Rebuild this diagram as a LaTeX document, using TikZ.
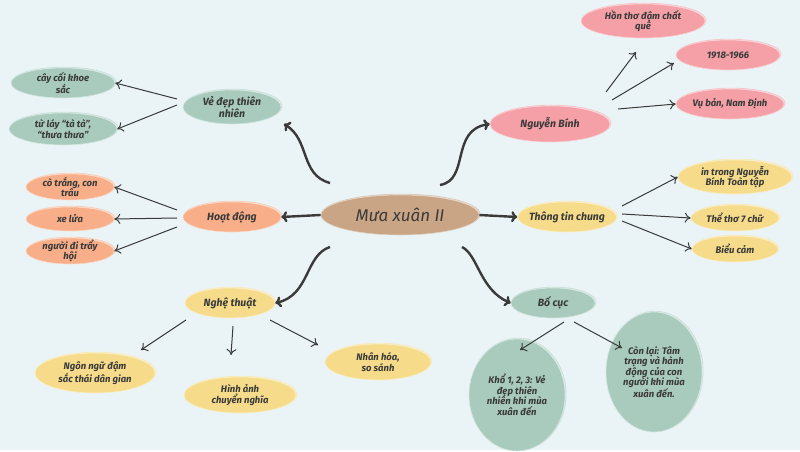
\documentclass[tikz,border=0pt]{standalone}
\usepackage{fontspec}
\setmainfont{Fira Sans}
\usetikzlibrary{shapes.geometric,arrows.meta}
\definecolor{bg}{HTML}{EAF4F6}
\definecolor{tan}{HTML}{C9A585}
\definecolor{grn}{HTML}{A9CBBE}
\definecolor{org}{HTML}{F8AE88}
\definecolor{pnk}{HTML}{F4A0A6}
\definecolor{yel}{HTML}{F6DC8A}
\definecolor{ink}{HTML}{3A3A3A}
\tikzset{
 bub/.style={ellipse,inner sep=-3pt,align=center,text=ink,font=\itshape\bfseries\fontsize{9.5}{10.5}\selectfont,
   preaction={draw=#1!60!white,line width=0.9pt,transform canvas={shift={(1pt,0.8pt)}}},fill=#1,draw=#1!50!white,line width=0.6pt},
 lf/.style={-{To[length=6pt,width=10pt]},draw=ink,line width=1pt},
 big/.style={-{To[length=6pt,width=11pt]},draw=ink,line width=2.4pt}
}
\begin{document}
\begin{tikzpicture}[x=1pt,y=-1pt]
\fill[bg] (0,0) rectangle (800,450);
\node[bub=tan,minimum width=158pt,minimum height=40pt,font=\itshape\fontsize{17}{19}\selectfont] (m) at (400,215) {Mưa xuân II};
\node[bub=grn,minimum width=98pt,minimum height=34pt,font=\itshape\bfseries\fontsize{10.5}{11.5}\selectfont] (v) at (232,107) {Vẻ đẹp thiên\\nhiên};
\node[bub=grn,minimum width=104pt,minimum height=30pt] (v1) at (63,83) {cây cối khoe\\sắc};
\node[bub=grn,minimum width=108pt,minimum height=32pt] (v2) at (63,129) {từ láy “tà tà”,\\“thưa thưa”};
\node[bub=org,minimum width=98pt,minimum height=30pt,font=\itshape\bfseries\fontsize{10.5}{11.5}\selectfont] (h) at (232,217) {Hoạt động};
\node[bub=org,minimum width=88pt,minimum height=26pt] (h1) at (70,187) {cò trắng, con\\trâu};
\node[bub=org,minimum width=88pt,minimum height=24pt] (h2) at (70,219) {xe lửa};
\node[bub=org,minimum width=88pt,minimum height=26pt] (h3) at (70,251) {người đi trẩy\\hội};
\node[bub=yel,minimum width=90pt,minimum height=30pt,font=\itshape\bfseries\fontsize{10.5}{11.5}\selectfont] (n) at (230,303) {Nghệ thuật};
\node[bub=yel,minimum width=120pt,minimum height=40pt] (n1) at (95,373) {Ngôn ngữ đậm\\sắc thái dân gian};
\node[bub=yel,minimum width=112pt,minimum height=36pt] (n2) at (240,395) {Hình ảnh\\chuyển nghĩa};
\node[bub=yel,minimum width=106pt,minimum height=36pt] (n3) at (378,362) {Nhân hóa,\\so sánh};
\node[bub=pnk,minimum width=120pt,minimum height=36pt,font=\itshape\bfseries\fontsize{10.5}{11.5}\selectfont] (g) at (550,124) {Nguyễn Bính};
\node[bub=pnk,minimum width=124pt,minimum height=34pt] (g1) at (643,21) {Hồn thơ đậm chất\\quê};
\node[bub=pnk,minimum width=104pt,minimum height=30pt] (g2) at (728,55) {1918-1966};
\node[bub=pnk,minimum width=108pt,minimum height=30pt] (g3) at (730,104) {Vụ bản, Nam Định};
\node[bub=yel,minimum width=92pt,minimum height=30pt,font=\itshape\bfseries\fontsize{10.5}{11.5}\selectfont] (t) at (567,217) {Thông tin chung};
\node[bub=yel,minimum width=114pt,minimum height=34pt] (t1) at (735,177) {in trong Nguyễn\\Bính Toàn tập};
\node[bub=yel,minimum width=88pt,minimum height=26pt] (t2) at (735,218) {Thể thơ 7 chữ};
\node[bub=yel,minimum width=86pt,minimum height=26pt] (t3) at (735,249) {Biểu cảm};
\node[bub=grn,minimum width=84pt,minimum height=30pt,font=\itshape\bfseries\fontsize{10.5}{11.5}\selectfont] (b) at (553,303) {Bố cục};
\node[bub=grn,minimum width=96pt,minimum height=112pt,inner sep=-8pt] (b1) at (517,395) {Khổ 1, 2, 3: Vẻ\\đẹp thiên\\nhiên khi mùa\\xuân đến};
\node[bub=grn,minimum width=96pt,minimum height=120pt,inner sep=-8pt] (b2) at (654,372) {Còn lại: Tâm\\trạng và hành\\động của con\\người khi mùa\\xuân đến.};
% main connectors
\coordinate (mv) at (330,183); \coordinate (mg) at (440,185);
\coordinate (mn) at (330,247); \coordinate (mb) at (462,247);
\draw[big] (mv) .. controls (300,175) and (310,140) .. (284,124);
\draw[big] (m.west) -- (h.east);
\draw[big] (mn) .. controls (305,255) and (310,295) .. (n.east);
\draw[big] (mg) .. controls (470,180) and (450,130) .. (g.west);
\draw[big] (m.east) -- (t.west);
\draw[big] (mb) .. controls (478,255) and (480,290) .. (b.west);
% leaves
\coordinate (va) at (177,99); \coordinate (vb) at (177,105);
\draw[lf] (va) -- (v1.east); \draw[lf] (vb) -- (v2.east);
\coordinate (ha) at (177,210); \coordinate (hb) at (177,218); \coordinate (hc) at (177,227);
\draw[lf] (ha) -- (h1.east); \draw[lf] (hb) -- (h2.east); \draw[lf] (hc) -- (h3.east);
\coordinate (na) at (186,320); \coordinate (nb) at (233,326); \coordinate (nc) at (270,320);
\coordinate (n1t) at (141,350); \coordinate (n2t) at (231,355); \coordinate (n3t) at (318,345);
\draw[lf] (na) -- (n1t); \draw[lf] (nb) -- (n2t); \draw[lf] (nc) -- (n3t);
\coordinate (ga) at (606,92); \coordinate (gb) at (612,100); \coordinate (gc) at (618,109);
\coordinate (g1t) at (636,52); \coordinate (g2t) at (674,63);
\draw[lf] (ga) -- (g1t); \draw[lf] (gb) -- (g2t); \draw[lf] (gc) -- (g3.west);
\coordinate (ta) at (622,206); \coordinate (tb) at (622,214); \coordinate (tc) at (622,221);
\draw[lf] (ta) -- (t1.west); \draw[lf] (tb) -- (t2.west); \draw[lf] (tc) -- (t3.west);
\coordinate (ba) at (564,322); \coordinate (bb) at (574,322);
\coordinate (b1t) at (520,350); \coordinate (b2t) at (622,348);
\draw[lf] (ba) -- (b1t); \draw[lf] (bb) -- (b2t);
\end{tikzpicture}
\end{document}
